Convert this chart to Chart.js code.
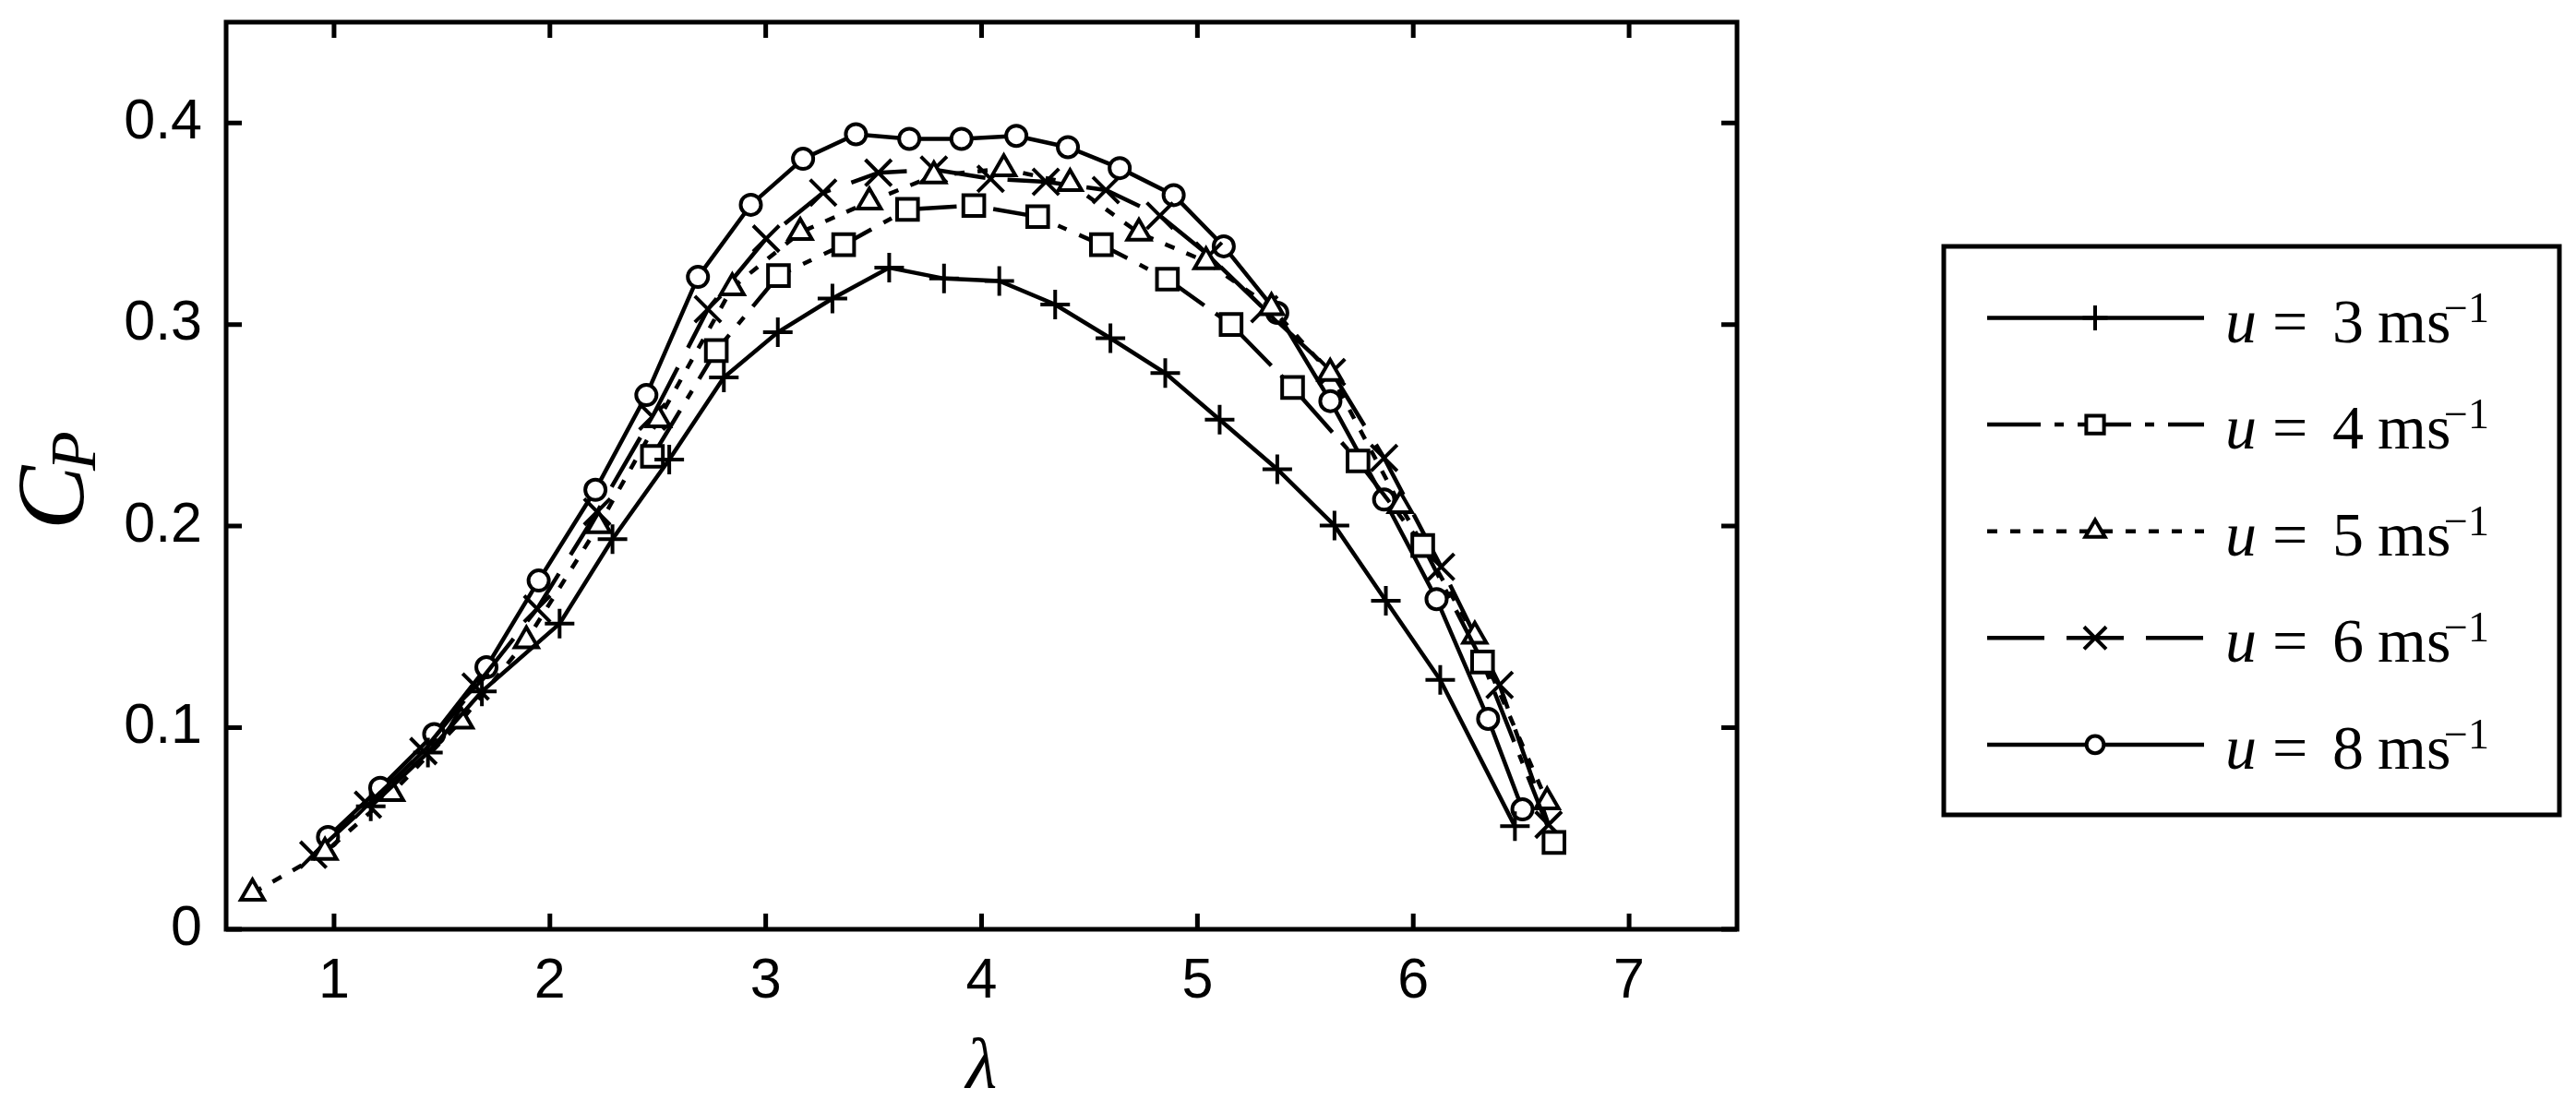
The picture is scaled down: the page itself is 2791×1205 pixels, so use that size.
<!DOCTYPE html>
<html>
<head>
<meta charset="utf-8">
<title>Cp vs lambda</title>
<script src="https://cdn.jsdelivr.net/npm/chart.js@4.4.1/dist/chart.umd.min.js"></script>
<style>
    html, body { margin: 0; padding: 0; background: #fff; }
    #wrap { width: 2791px; height: 1205px; }
</style>
</head>
<body>
<div id="wrap"><canvas id="graficoCp" width="2791" height="1205"></canvas></div>
<script>
// --- datos ---
const speeds = [3, 4, 5, 6, 8];

const lambda3 = [1.17, 1.435, 1.685, 2.045, 2.29, 2.553, 2.806, 3.056, 3.309, 3.572, 3.826, 4.082, 4.341, 4.597, 4.851, 5.103, 5.37, 5.635, 5.873, 6.125, 6.471];
const cp3     = [0.061, 0.0877, 0.118, 0.1516, 0.1935, 0.233, 0.2737, 0.2962, 0.3129, 0.3282, 0.3228, 0.3216, 0.3099, 0.2932, 0.2759, 0.2528, 0.2282, 0.2003, 0.163, 0.1237, 0.0511];

const lambda4 = [2.475, 2.771, 3.059, 3.361, 3.657, 3.964, 4.26, 4.555, 4.861, 5.156, 5.441, 5.744, 6.044, 6.321, 6.652];
const cp4     = [0.2346, 0.2871, 0.3243, 0.3396, 0.3571, 0.359, 0.3535, 0.3396, 0.3225, 0.300, 0.2688, 0.2323, 0.1904, 0.1326, 0.0431];

const lambda5 = [0.622, 0.958, 1.267, 1.588, 1.891, 2.226, 2.503, 2.845, 3.16, 3.48, 3.779, 4.103, 4.41, 4.729, 5.04, 5.343, 5.615, 5.94, 6.285, 6.62];
const cp5     = [0.018, 0.0382, 0.0674, 0.1033, 0.1432, 0.2003, 0.2528, 0.3183, 0.3457, 0.3609, 0.3738, 0.3773, 0.370, 0.3454, 0.3312, 0.3084, 0.2758, 0.2102, 0.1455, 0.0633];

const lambda6 = [0.904, 1.157, 1.414, 1.656, 1.941, 2.219, 2.475, 2.732, 3.002, 3.266, 3.522, 3.779, 4.042, 4.298, 4.576, 4.826, 5.053, 5.31, 5.623, 5.865, 6.129, 6.40, 6.627];
const cp6     = [0.037, 0.0618, 0.0884, 0.1204, 0.159, 0.2071, 0.2543, 0.3076, 0.3426, 0.3654, 0.3753, 0.3769, 0.3723, 0.3708, 0.3667, 0.354, 0.3342, 0.3076, 0.2764, 0.2338, 0.1798, 0.1212, 0.0519];

const lambda8 = [0.972, 1.214, 1.464, 1.706, 1.948, 2.211, 2.447, 2.686, 2.931, 3.173, 3.418, 3.665, 3.907, 4.161, 4.40, 4.64, 4.89, 5.122, 5.37, 5.616, 5.865, 6.108, 6.347, 6.506];
const cp8     = [0.0458, 0.0702, 0.0968, 0.130, 0.173, 0.218, 0.265, 0.3236, 0.3594, 0.3822, 0.3944, 0.3921, 0.3921, 0.3936, 0.388, 0.3776, 0.3642, 0.3388, 0.3058, 0.262, 0.2132, 0.1638, 0.1044, 0.0595];

const xTicks = [1, 2, 3, 4, 5, 6, 7];
const yTicks = [0, 0.1, 0.2, 0.3, 0.4];

// junta dos arreglos en puntos {x, y}
function puntos(xs, ys) {
    return xs.map((x, i) => ({ x: x, y: ys[i] }));
}

// estilos de cada serie (linea + marcador)
const estilos = [
    { dash: [],               marker: 'cross',    r: 16 },
    { dash: [58, 15, 10, 15], marker: 'rect',     r: 16 },
    { dash: [11, 14],         marker: 'triangle', r: 14.5 },
    { dash: [62, 24],         marker: 'crossRot', r: 20 },
    { dash: [],               marker: 'circle',   r: 11 }
];
const series = [
    puntos(lambda3, cp3), puntos(lambda4, cp4), puntos(lambda5, cp5),
    puntos(lambda6, cp6), puntos(lambda8, cp8)
];

// dibuja un marcador igual que Chart.js
function dibujarMarcador(ctx, tipo, x, y, r) {
    ctx.beginPath();
    if (tipo === 'circle') {
        ctx.arc(x, y, r, 0, Math.PI * 2);
        ctx.fill(); ctx.stroke();
    } else if (tipo === 'rect') {
        const s = r * Math.SQRT1_2;
        ctx.rect(x - s, y - s, 2 * s, 2 * s);
        ctx.fill(); ctx.stroke();
    } else if (tipo === 'triangle') {
        for (let k = 0; k < 3; k++) {
            const a = k * 2 * Math.PI / 3;
            const px = x + Math.sin(a) * r, py = y - Math.cos(a) * r;
            if (k === 0) ctx.moveTo(px, py); else ctx.lineTo(px, py);
        }
        ctx.closePath();
        ctx.fill(); ctx.stroke();
    } else if (tipo === 'cross') {
        ctx.moveTo(x, y - r); ctx.lineTo(x, y + r);
        ctx.moveTo(x - r, y); ctx.lineTo(x + r, y);
        ctx.stroke();
    } else if (tipo === 'crossRot') {
        const d = r * Math.SQRT1_2;
        ctx.moveTo(x - d, y - d); ctx.lineTo(x + d, y + d);
        ctx.moveTo(x - d, y + d); ctx.lineTo(x + d, y - d);
        ctx.stroke();
    }
}

// marco, ticks hacia dentro, etiqueta C_P y leyenda
const marcoPlugin = {
    id: 'marco',
    afterDraw(chart) {
        const ctx = chart.ctx;
        const a = chart.chartArea;
        const sx = chart.scales.x, sy = chart.scales.y;
        ctx.save();
        ctx.strokeStyle = '#000';
        ctx.lineWidth = 5;
        ctx.setLineDash([]);
        ctx.strokeRect(a.left, a.top, a.right - a.left, a.bottom - a.top);
        ctx.beginPath();
        xTicks.forEach(v => {
            const p = sx.getPixelForValue(v);
            ctx.moveTo(p, a.bottom); ctx.lineTo(p, a.bottom - 17);
            ctx.moveTo(p, a.top); ctx.lineTo(p, a.top + 17);
        });
        yTicks.forEach(v => {
            const p = sy.getPixelForValue(v);
            ctx.moveTo(a.left, p); ctx.lineTo(a.left + 17, p);
            ctx.moveTo(a.right, p); ctx.lineTo(a.right - 17, p);
        });
        ctx.stroke();

        // C_P girado
        ctx.save();
        ctx.fillStyle = '#000';
        ctx.translate(90, 574);
        ctx.rotate(-Math.PI / 2);
        ctx.textBaseline = 'alphabetic';
        ctx.textAlign = 'left';
        ctx.font = "italic 104px 'Liberation Serif', serif";
        ctx.fillText('C', 0, 0);
        ctx.font = "italic 70px 'Liberation Serif', serif";
        ctx.fillText('P', 64, 13);
        ctx.restore();

        // leyenda
        ctx.lineWidth = 5;
        ctx.strokeRect(2106, 267, 2773 - 2106, 883 - 267);
        chart.data.datasets.forEach((ds, i) => {
            const y = 344.5 + i * 115.6;
            const est = estilos[i];
            ctx.save();
            ctx.lineWidth = 4.5;
            ctx.setLineDash(est.dash);
            ctx.beginPath();
            ctx.moveTo(2153, y); ctx.lineTo(2388, y);
            ctx.stroke();
            ctx.restore();
            ctx.save();
            ctx.lineWidth = 4;
            ctx.fillStyle = '#fff';
            dibujarMarcador(ctx, est.marker, 2270, y, est.r * 0.85);
            ctx.restore();

            ctx.fillStyle = '#000';
            ctx.textBaseline = 'alphabetic';
            ctx.textAlign = 'left';
            ctx.font = "italic 68px 'Liberation Serif', serif";
            ctx.fillText('u', 2411, y + 26);
            ctx.font = "68px 'Liberation Serif', serif";
            ctx.fillText('=', 2462, y + 26);
            ctx.fillText(String(speeds[i]), 2527, y + 26);
            ctx.fillText('ms', 2576, y + 26);
            ctx.font = "46px 'Liberation Serif', serif";
            ctx.fillText('\u22121', 2648, y + 4);
        });
        ctx.restore();
    }
};

document.addEventListener('DOMContentLoaded', function() {
    const canvas = document.getElementById('graficoCp');
    const ctx = canvas.getContext('2d');

    const datasets = series.map((pts, i) => ({
        label: 'u = ' + speeds[i] + ' ms\u207B\u00B9',
        data: pts,
        showLine: true,
        borderColor: '#000',
        borderWidth: 4.5,
        borderDash: estilos[i].dash,
        tension: 0,
        pointStyle: estilos[i].marker,
        pointRadius: estilos[i].r,
        pointBorderWidth: 4,
        pointBorderColor: '#000',
        pointBackgroundColor: '#fff'
    }));

    new Chart(ctx, {
        type: 'scatter',
        data: { datasets: datasets },
        options: {
            responsive: false,
            animation: false,
            devicePixelRatio: 1,
            layout: { padding: { top: 22, right: 909, bottom: 0, left: 0 } },
            plugins: {
                legend: { display: false },
                tooltip: { enabled: false }
            },
            scales: {
                x: {
                    type: 'linear',
                    min: 0.5,
                    max: 7.5,
                    grid: { display: false, drawTicks: false },
                    border: { display: false },
                    afterBuildTicks: s => { s.ticks = xTicks.map(v => ({ value: v })); },
                    afterFit: s => {
                        s.height = 198;
                        s.paddingLeft = 0; s.paddingRight = 0;
                    },
                    ticks: {
                        color: '#000',
                        padding: 21,
                        maxRotation: 0,
                        font: { family: "'Liberation Sans', Arial, sans-serif", size: 61 },
                        callback: v => String(v)
                    },
                    title: {
                        display: true,
                        text: '\u03BB',
                        color: '#000',
                        padding: { top: 0, bottom: 0 },
                        font: { family: "'Liberation Serif', serif", style: 'italic', size: 78 }
                    }
                },
                y: {
                    type: 'linear',
                    min: 0,
                    max: 0.45,
                    grid: { display: false, drawTicks: false },
                    border: { display: false },
                    afterBuildTicks: s => { s.ticks = yTicks.map(v => ({ value: v })); },
                    afterFit: s => {
                        s.width = 245;
                        s.paddingTop = 0; s.paddingBottom = 0;
                    },
                    ticks: {
                        color: '#000',
                        padding: 26,
                        font: { family: "'Liberation Sans', Arial, sans-serif", size: 61 },
                        callback: v => (v === 0 ? '0' : v.toFixed(1))
                    }
                }
            }
        },
        plugins: [marcoPlugin]
    });
});
</script>
</body>
</html>
